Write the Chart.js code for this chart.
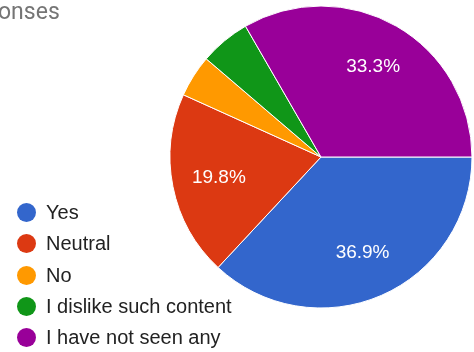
<!DOCTYPE html>
<html>
<head>
<meta charset="utf-8">
<script src="https://cdn.jsdelivr.net/npm/chart.js@4"></script>
<style>
  html, body { margin: 0; padding: 0; background: #fff; }
  #wrap { position: relative; width: 474px; height: 352px; overflow: hidden; }
  #pie { position: absolute; left: 0; top: 0; }
  #title {
    position: absolute; left: -2px; top: -2px;
    font: 23px Roboto, sans-serif; color: #757575; white-space: nowrap;
  }
  #legend { position: absolute; left: 17px; top: 197px; margin: 0; padding: 0; list-style: none; }
  #legend li {
    display: flex; align-items: center; height: 31.3px;
    font: 20px "Liberation Sans", Arial, sans-serif; color: #222;
    white-space: nowrap;
  }
  #legend .dot { width: 19px; height: 19px; border-radius: 50%; margin-right: 10px; flex: none; }
</style>
</head>
<body>
<div id="wrap">
  <canvas id="pie" width="474" height="352"></canvas>
  <div id="title">onses</div>
  <ul id="legend"></ul>
</div>
<script>
const labels = ['Yes', 'Neutral', 'No', 'I dislike such content', 'I have not seen any'];
const counts = [41, 22, 5, 6, 37];
const colors = ['#3366cc', '#dc3912', '#ff9900', '#109618', '#990099'];

const total = counts.reduce((a, b) => a + b, 0);

// percent text inside the bigger slices
const sliceLabels = {
  id: 'sliceLabels',
  afterDatasetsDraw(chart) {
    const { ctx } = chart;
    const meta = chart.getDatasetMeta(0);
    ctx.save();
    ctx.font = '19px "Liberation Sans", Arial, sans-serif';
    ctx.fillStyle = '#fff';
    ctx.textAlign = 'center';
    ctx.textBaseline = 'middle';
    meta.data.forEach((arc, i) => {
      const frac = counts[i] / total;
      if (frac < 0.1) return;
      const mid = (arc.startAngle + arc.endAngle) / 2;
      const r = arc.outerRadius * 0.69;
      ctx.fillText(`${(frac * 100).toFixed(1)}%`, arc.x + Math.cos(mid) * r, arc.y + Math.sin(mid) * r);
    });
    ctx.restore();
  },
};

new Chart(document.getElementById('pie'), {
  type: 'pie',
  data: {
    labels,
    datasets: [{
      data: counts,
      backgroundColor: colors,
      borderColor: '#ffffff',
      borderWidth: 1,
    }],
  },
  options: {
    responsive: false,
    animation: false,
    rotation: 90,
    radius: 151,
    layout: { padding: { left: 168, right: 0, top: 0, bottom: 38 } },
    plugins: {
      legend: { display: false },
      tooltip: { enabled: false },
    },
  },
  plugins: [sliceLabels],
});

document.getElementById('legend').innerHTML = labels.map((l, i) =>
  `<li><span class="dot" style="background:${colors[i]}"></span>${l}</li>`
).join('');
</script>
</body>
</html>
